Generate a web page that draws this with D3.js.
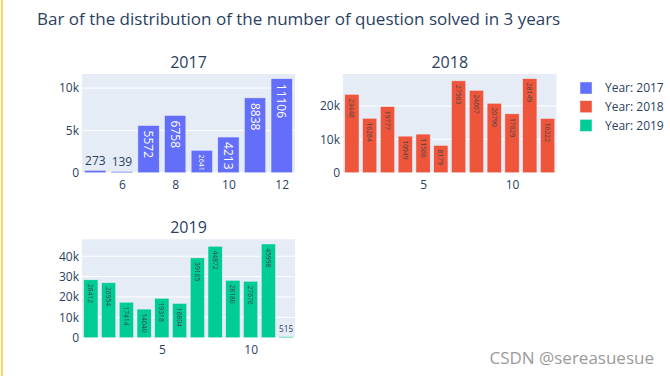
<!DOCTYPE html>
<html>
<head>
<meta charset="utf-8">
<script src="https://cdn.jsdelivr.net/npm/d3@7"></script>
<style>
  body { margin: 0; background: #fff; }
  text { font-family: "Open Sans", verdana, arial, sans-serif; }
</style>
</head>
<body>
<div id="chart"></div>
<script>
var w = 670,
  h = 376;

var titleText = "Bar of the distribution of the number of question solved in 3 years";
var years = ["2017", "2018", "2019"];
var colors = ["#636EFA", "#EF553B", "#00CC96"];
var insideColors = ["#ffffff", "#444444", "#444444"];

var months2017 = [5, 6, 7, 8, 9, 10, 11, 12];
var values2017 = [273, 139, 5572, 6758, 2641, 4213, 8838, 11106];
var months2018 = [1, 2, 3, 4, 5, 6, 7, 8, 9, 10, 11, 12];
var values2018 = [23448, 16284, 19777, 10949, 11560, 8179, 27503, 24667, 20790, 17629, 28149, 16222];
var months2019 = [1, 2, 3, 4, 5, 6, 7, 8, 9, 10, 11, 12];
var values2019 = [28412, 26954, 17414, 14040, 19318, 16804, 39165, 44872, 28180, 27676, 45998, 515];

var xTicks2017 = [6, 8, 10, 12];
var xTicks2018 = [5, 10];
var xTicks2019 = [5, 10];
var yTicks2017 = [0, 5000, 10000];
var yTicks2018 = [0, 10000, 20000];
var yTicks2019 = [0, 10000, 20000, 30000, 40000];

var panels = [
  { year: years[0], months: months2017, values: values2017, xTicks: xTicks2017, yTicks: yTicks2017,
    color: colors[0], inside: insideColors[0], x0: 82, x1: 295, y0: 74, y1: 172.7 },
  { year: years[1], months: months2018, values: values2018, xTicks: xTicks2018, yTicks: yTicks2018,
    color: colors[1], inside: insideColors[1], x0: 343, x1: 556.5, y0: 74, y1: 172.7 },
  { year: years[2], months: months2019, values: values2019, xTicks: xTicks2019, yTicks: yTicks2019,
    color: colors[2], inside: insideColors[2], x0: 82, x1: 295, y0: 239.3, y1: 337.7 },
];

var fontColor = "#2a3f5f";
var TEXTPAD = 3;

var svg = d3
  .select("#chart")
  .append("svg")
  .attr("width", w)
  .attr("height", h);

svg.append("rect").attr("width", w).attr("height", h).attr("fill", "#fff");

// yellow left border of the blog quote
svg.append("rect").attr("x", 1).attr("y", 0).attr("width", 2).attr("height", h).attr("fill", "#ffd35a");

svg
  .append("text")
  .attr("x", 37)
  .attr("y", 25)
  .attr("font-size", 17)
  .attr("fill", fontColor)
  .text(titleText);

var fmt = d3.format("~s");

panels.forEach((p) => {
  const x = d3.scaleLinear().domain([0.5, 12.5]).range([p.x0, p.x1]);
  if (p.months[0] === 5) x.domain([4.5, 12.5]);
  const y = d3
    .scaleLinear()
    .domain([0, d3.max(p.values) * 1.05])
    .range([p.y1, p.y0]);

  const g = svg.append("g");

  g.append("rect")
    .attr("x", p.x0)
    .attr("y", p.y0)
    .attr("width", p.x1 - p.x0)
    .attr("height", p.y1 - p.y0)
    .attr("fill", "#E5ECF6");

  g.selectAll(".grid")
    .data(p.yTicks)
    .enter()
    .append("line")
    .attr("x1", p.x0)
    .attr("x2", p.x1)
    .attr("y1", (d) => y(d))
    .attr("y2", (d) => y(d))
    .attr("stroke", "#fff")
    .attr("stroke-width", (d) => (d === 0 ? 2 : 1));

  const yAxis = d3.axisLeft(y).tickValues(p.yTicks).tickFormat((d) => (d === 0 ? "0" : fmt(d))).tickSize(0).tickPadding(3);
  const ya = g.append("g").attr("transform", `translate(${p.x0},0)`).call(yAxis);
  const xAxis = d3.axisBottom(x).tickValues(p.xTicks).tickSize(0).tickPadding(8);
  const xa = g.append("g").attr("transform", `translate(0,${p.y1})`).call(xAxis);
  [ya, xa].forEach((a) => {
    a.select(".domain").remove();
    a.selectAll("text").attr("font-size", 12).attr("fill", fontColor).attr("font-family", null);
  });

  const bars = p.months.map((m, i) => ({ m: m, v: p.values[i] }));

  g.selectAll(".bar")
    .data(bars)
    .enter()
    .append("rect")
    .attr("x", (d) => x(d.m - 0.4))
    .attr("width", (d) => x(d.m + 0.4) - x(d.m - 0.4))
    .attr("y", (d) => y(d.v))
    .attr("height", (d) => y(0) - y(d.v))
    .attr("fill", p.color)
    .attr("stroke", "#E5ECF6")
    .attr("stroke-width", 0.5);

  // bar labels, fitted the way plotly does with textposition auto
  bars.forEach((d) => {
    const bx0 = x(d.m - 0.4),
      bx1 = x(d.m + 0.4),
      by0 = y(d.v),
      by1 = y(0);
    const t = g
      .append("text")
      .attr("font-size", 12)
      .attr("text-anchor", "middle")
      .attr("dominant-baseline", "central")
      .text(d.v);
    const bb = t.node().getBBox();
    const tw = bb.width,
      th = bb.height * 0.86;
    const bw = bx1 - bx0,
      bh = by1 - by0;
    const fitsInside =
      (tw <= bw - 2 * TEXTPAD && th <= bh - 2 * TEXTPAD) ||
      (th <= bw - 2 * TEXTPAD && tw <= bh - 2 * TEXTPAD) ||
      bh - 2 * TEXTPAD >= th * ((bw - 2 * TEXTPAD) / tw);
    const cx = (bx0 + bx1) / 2;
    if (fitsInside && bh > 2 * TEXTPAD) {
      const lx = bw - 2 * TEXTPAD,
        ly = bh - 2 * TEXTPAD;
      let rot = 0;
      if (!(tw <= lx && th <= ly)) rot = 90;
      const rw = rot ? th : tw,
        rh = rot ? tw : th;
      const s = Math.min(1, lx / rw, ly / rh);
      const cy = by0 + TEXTPAD + (rh * s) / 2 + 2 * s;
      t.attr("fill", p.inside).attr(
        "transform",
        `translate(${cx},${cy}) rotate(${rot}) scale(${s})`
      );
    } else {
      const s = Math.min(1, bw / tw);
      const cy = by0 - TEXTPAD - (th * s) / 2;
      t.attr("fill", fontColor).attr("transform", `translate(${cx},${cy}) scale(${s})`);
    }
  });

  g.append("text")
    .attr("x", (p.x0 + p.x1) / 2)
    .attr("y", p.y0 - 6)
    .attr("text-anchor", "middle")
    .attr("font-size", 16)
    .attr("fill", fontColor)
    .text(p.year);
});

// legend
const legend = svg.append("g");
years.forEach((yr, i) => {
  const cy = 88 + i * 18.7;
  legend
    .append("rect")
    .attr("x", 580)
    .attr("y", cy - 6)
    .attr("width", 12)
    .attr("height", 12)
    .attr("fill", colors[i])
    .attr("stroke", "#E5ECF6")
    .attr("stroke-width", 0.5);
  legend
    .append("text")
    .attr("x", 605)
    .attr("y", cy)
    .attr("dy", "0.35em")
    .attr("font-size", 12)
    .attr("fill", fontColor)
    .text("Year: " + yr);
});

// watermark
svg
  .append("text")
  .attr("x", 654)
  .attr("y", 364)
  .attr("text-anchor", "end")
  .attr("font-size", 17)
  .attr("fill", "#9a9a9a")
  .attr("stroke", "#fff")
  .attr("stroke-width", 0.6)
  .attr("paint-order", "stroke")
  .text("CSDN @sereasuesue");
</script>
</body>
</html>
